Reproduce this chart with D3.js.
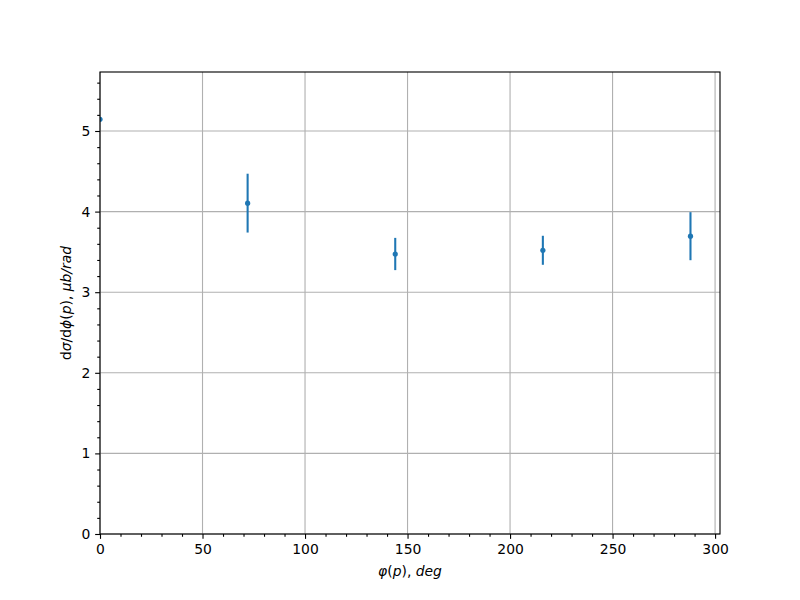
<!DOCTYPE html>
<html><head><meta charset="utf-8">
<script src="https://cdn.jsdelivr.net/npm/d3@7"></script>
<style>body{margin:0;background:#fff;} svg{display:block;}</style>
</head><body>
<svg id="chart" width="800" height="600"></svg>
<script>
const xValues = [0, 72, 144, 216, 288];
const yValues = [5.145, 4.105, 3.474, 3.52, 3.695];
const yErrors = [0.47, 0.365, 0.2, 0.18, 0.298];
const xTicks = [0, 50, 100, 150, 200, 250, 300];
const yTicks = [0, 1, 2, 3, 4, 5];

const svg = d3.select("#chart");
const L = 100, R = 720, T = 72, B = 534;
const x = d3.scaleLinear().domain([0, 302.4]).range([L, R]);
const y = d3.scaleLinear().domain([0, 5.732]).range([B, T]);
const font = "DejaVu Sans";
const lw = 1.11;

svg.append("defs").append("clipPath").attr("id", "clip")
  .append("rect").attr("x", L).attr("y", T).attr("width", R - L).attr("height", B - T);

// grid
const g = svg.append("g");
g.selectAll(".gx").data(xTicks).enter().append("line")
  .attr("x1", d => x(d)).attr("x2", d => x(d)).attr("y1", T).attr("y2", B)
  .attr("stroke", "#b0b0b0").attr("stroke-width", lw);
g.selectAll(".gy").data(yTicks).enter().append("line")
  .attr("y1", d => y(d)).attr("y2", d => y(d)).attr("x1", L).attr("x2", R)
  .attr("stroke", "#b0b0b0").attr("stroke-width", lw);

// error bars
const c = "#1f77b4";
const data = xValues.map((v, i) => ({x: v, y: yValues[i], e: yErrors[i]}));
const dg = svg.append("g").attr("clip-path", "url(#clip)");
dg.selectAll("line").data(data.filter(d => d.x > 0)).enter().append("line")
  .attr("x1", d => x(d.x)).attr("x2", d => x(d.x))
  .attr("y1", d => y(d.y - d.e)).attr("y2", d => y(d.y + d.e))
  .attr("stroke", c).attr("stroke-width", 2.08);
dg.selectAll("circle").data(data).enter().append("circle")
  .attr("cx", d => x(d.x)).attr("cy", d => y(d.y)).attr("r", 2.6).attr("fill", c);

// axes
const xAxis = d3.axisBottom(x).tickValues(xTicks).tickSize(4.86).tickPadding(4.86).tickFormat(d3.format("d"));
const yAxis = d3.axisLeft(y).tickValues(yTicks).tickSize(4.86).tickPadding(4.86).tickFormat(d3.format("d"));
svg.append("g").attr("transform", `translate(0,${B})`).call(xAxis);
svg.append("g").attr("transform", `translate(${L},0)`).call(yAxis);
const xMinor = d3.range(0, 303, 10).filter(v => v % 50 !== 0);
const yMinor = d3.range(0, 5.73, 0.2).filter(v => Math.abs(v - Math.round(v)) > 1e-6);
svg.append("g").attr("transform", `translate(0,${B})`)
  .call(d3.axisBottom(x).tickValues(xMinor).tickSize(2.78).tickFormat(""));
svg.append("g").attr("transform", `translate(${L},0)`)
  .call(d3.axisLeft(y).tickValues(yMinor).tickSize(2.78).tickFormat(""));
svg.selectAll(".domain").remove();
svg.selectAll(".tick line").attr("stroke", "#000").attr("stroke-width", lw);
svg.selectAll(".tick text").attr("font-family", font).attr("font-size", "13.9px").attr("fill", "#000");

// spines
svg.append("rect").attr("x", L).attr("y", T).attr("width", R - L).attr("height", B - T)
  .attr("fill", "none").attr("stroke", "#000").attr("stroke-width", lw);

// labels
const xl = svg.append("text").attr("x", (L + R) / 2).attr("y", 576)
  .attr("text-anchor", "middle").attr("font-family", font).attr("font-size", "13.9px");
xl.append("tspan").attr("font-style", "italic").text("φ");
xl.append("tspan").text("(");
xl.append("tspan").attr("font-style", "italic").text("p");
xl.append("tspan").text("),");
xl.append("tspan").attr("font-style", "italic").text(" deg");

const yl = svg.append("text").attr("transform", `translate(71,${(T + B) / 2}) rotate(-90)`)
  .attr("text-anchor", "middle").attr("font-family", font).attr("font-size", "13.9px");
yl.append("tspan").text("d");
yl.append("tspan").attr("font-style", "italic").text("σ");
yl.append("tspan").text("/d");
yl.append("tspan").attr("font-style", "italic").text("ϕ");
yl.append("tspan").text("(");
yl.append("tspan").attr("font-style", "italic").text("p");
yl.append("tspan").text("),");
yl.append("tspan").attr("font-style", "italic").text(" μb/rad");
</script>
</body></html>
